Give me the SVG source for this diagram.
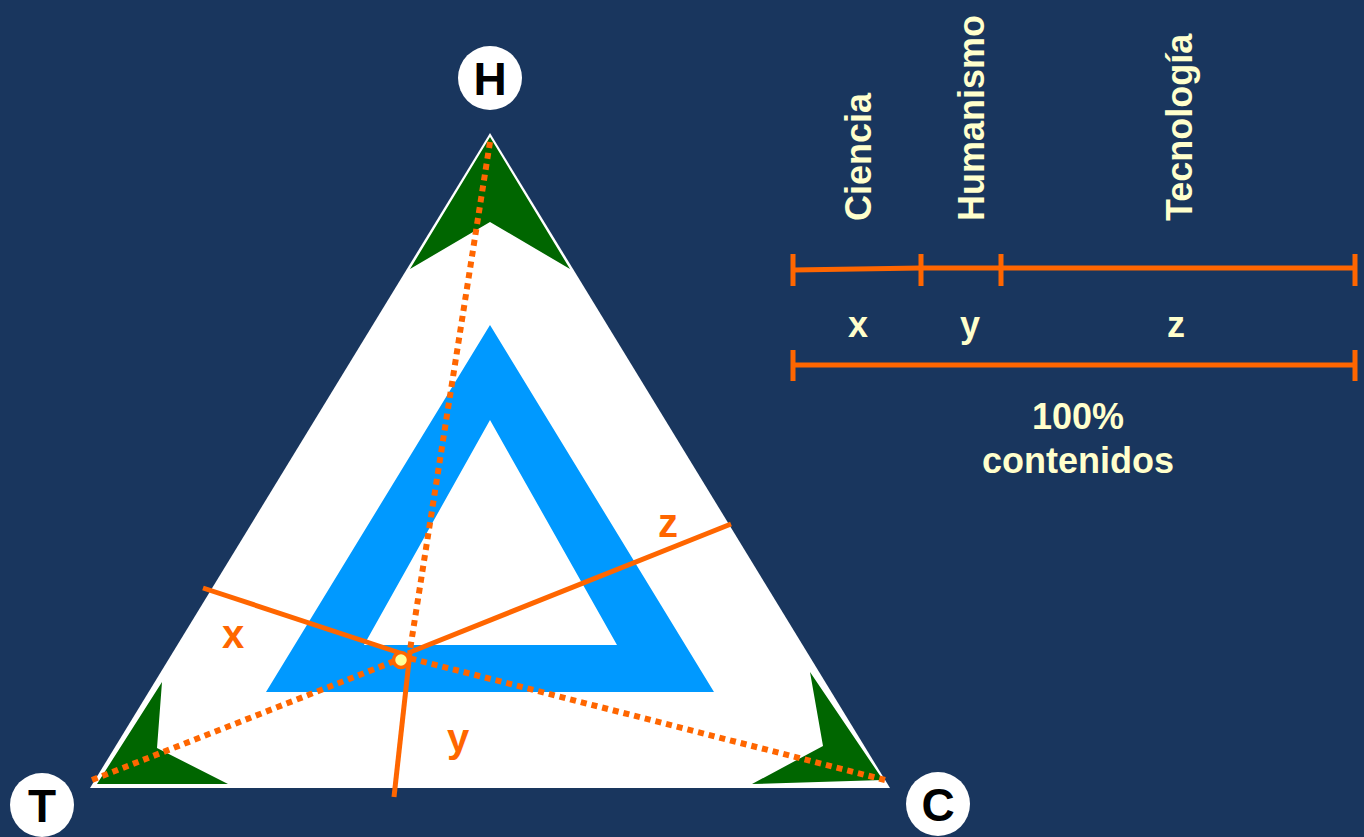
<svg xmlns="http://www.w3.org/2000/svg" width="1364" height="837" viewBox="0 0 1364 837">
<defs>
<style>
.bg{fill:#19365E}
.green{fill:#006600}
.or{stroke:#FF6600;stroke-width:5;fill:none}
.dot{stroke:#FF6600;stroke-width:6;fill:none;stroke-dasharray:6 5}
.lbl{font-family:"Liberation Sans",Arial,sans-serif;font-weight:bold;fill:#FF6600;font-size:40px;text-anchor:middle}
.cream{font-family:"Liberation Sans",Arial,sans-serif;font-weight:bold;fill:#FFFFCC;font-size:36px}
.node circle{fill:#FFFFFF}
.node text{font-family:"Liberation Sans",Arial,sans-serif;font-weight:bold;fill:#000000;font-size:46px;text-anchor:middle}
</style>
</defs>
<rect class="bg" x="0" y="0" width="1364" height="837"/>
<g id="triangle">
<polygon points="490,133 890,788 90,788" fill="#FFFFFF"/>
<polygon class="green" points="490,137 570,269 490,222 410,269"/>
<polygon class="green" points="97,784 162,682 157,748 228,784"/>
<polygon class="green" points="883,780 810,672 823,746 752,784"/>
<path d="M490,325 L714,692 L266,692 Z M490,420 L364,645 L617,645 Z" fill="#0099FF" fill-rule="evenodd"/>
</g>
<g id="connectors">
<line class="dot" x1="490" y1="142" x2="410" y2="650"/>
<line class="dot" x1="92" y1="780" x2="405" y2="657"/>
<line class="dot" x1="885" y1="780" x2="405" y2="657"/>
<polyline class="or" points="203,588 400,653"/>
<polyline class="or" points="408,653 731,524"/>
<polyline class="or" points="410,652 394,797"/>
<circle cx="401" cy="660" r="7.5" fill="#FFFF99" stroke="#FF6600" stroke-width="3.5"/>
</g>
<g id="labels">
<text class="lbl" x="233" y="648">x</text>
<text class="lbl" x="458" y="752">y</text>
<text class="lbl" x="668" y="537">z</text>
</g>
<g id="node-H" class="node"><circle cx="490" cy="78" r="32"/><text x="490" y="95">H</text></g>
<g id="node-T" class="node"><circle cx="42" cy="805" r="32"/><text x="42" y="822">T</text></g>
<g id="node-C" class="node"><circle cx="938" cy="804" r="32"/><text x="938" y="821">C</text></g>
<g id="scale">
<line class="or" x1="793" y1="270" x2="921" y2="268"/>
<line class="or" x1="921" y1="268" x2="1355" y2="268"/>
<line class="or" x1="793" y1="254" x2="793" y2="286"/>
<line class="or" x1="921" y1="254" x2="921" y2="286"/>
<line class="or" x1="1001" y1="254" x2="1001" y2="286"/>
<line class="or" x1="1355" y1="254" x2="1355" y2="286"/>
<line class="or" x1="793" y1="365" x2="1355" y2="365"/>
<line class="or" x1="793" y1="350" x2="793" y2="381"/>
<line class="or" x1="1355" y1="350" x2="1355" y2="381"/>
<text class="cream" x="858" y="337" text-anchor="middle" font-size="40">x</text>
<text class="cream" x="970" y="337" text-anchor="middle" font-size="40">y</text>
<text class="cream" x="1176" y="337" text-anchor="middle" font-size="40">z</text>
<text class="cream" x="1078" y="429" text-anchor="middle" font-size="37">100%</text>
<text class="cream" x="1078" y="473" text-anchor="middle" font-size="37">contenidos</text>
<text class="cream" transform="translate(871,221) rotate(-90)">Ciencia</text>
<text class="cream" transform="translate(984,221) rotate(-90)">Humanismo</text>
<text class="cream" transform="translate(1192,221) rotate(-90)">Tecnología</text>
</g>
</svg>
